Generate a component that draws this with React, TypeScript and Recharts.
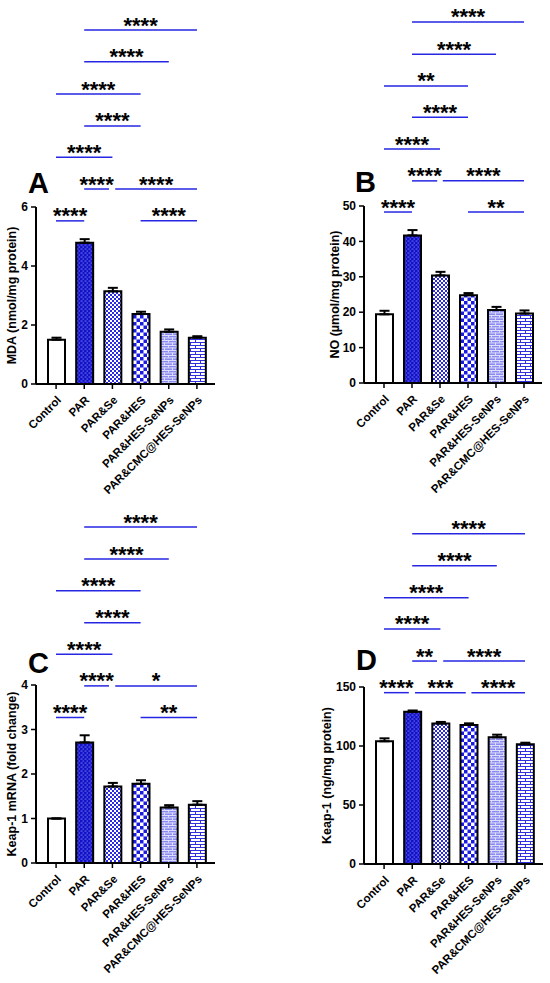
import React from 'react';
import { BarChart, Bar, XAxis, YAxis, ErrorBar, Cell, ReferenceLine } from 'recharts';

const groups = ['Control', 'PAR', 'PAR&Se', 'PAR&HES', 'PAR&HES-SeNPs', 'PAR&CMC@HES-SeNPs'];

const mdaValues = [1.5, 4.79, 3.14, 2.37, 1.77, 1.57];
const mdaErrors = [0.07, 0.12, 0.12, 0.08, 0.08, 0.05];
const noValues = [19.4, 41.7, 30.4, 24.8, 20.6, 19.6];
const noErrors = [1.0, 1.5, 1.0, 0.6, 0.9, 0.9];
const mrnaValues = [1.0, 2.71, 1.72, 1.78, 1.25, 1.31];
const mrnaErrors = [0, 0.16, 0.08, 0.08, 0.05, 0.08];
const proteinValues = [104, 129, 119, 117.8, 107.4, 101.4];
const proteinErrors = [2.5, 1.1, 1.4, 1.4, 2.2, 1.4];

const mdaTicks = [0, 2, 4, 6];
const noTicks = [0, 10, 20, 30, 40, 50];
const mrnaTicks = [0, 1, 2, 3, 4];
const proteinTicks = [0, 50, 100, 150];

// [from group index, to group index, bracket height (y units), significance]
const mdaBrackets: [number, number, number, string][] = [
  [1, 5, 12.0, '****'],
  [1, 4, 10.92, '****'],
  [0, 3, 9.83, '****'],
  [1, 3, 8.75, '****'],
  [0, 2, 7.69, '****'],
  [1, 1.88, 6.61, '****'],
  [2.1, 5, 6.61, '****'],
  [0, 1, 5.53, '****'],
  [3, 5, 5.53, '****'],
];
const noBrackets: [number, number, number, string][] = [
  [1, 5, 102, '****'],
  [1, 4, 92.9, '****'],
  [0, 3, 83.9, '**'],
  [1, 3, 75.1, '****'],
  [0, 2, 66.1, '****'],
  [1, 1.9, 57.1, '****'],
  [2.1, 5, 57.1, '****'],
  [0, 1, 48.3, '****'],
  [3, 5, 48.3, '**'],
];
const mrnaBrackets: [number, number, number, string][] = [
  [1, 5, 7.55, '****'],
  [1, 4, 6.83, '****'],
  [0, 3, 6.12, '****'],
  [1, 3, 5.4, '****'],
  [0, 2, 4.69, '****'],
  [1, 1.88, 3.98, '****'],
  [2.1, 5, 3.98, '*'],
  [0, 1, 3.27, '****'],
  [3, 5, 3.27, '**'],
];
const proteinBrackets: [number, number, number, string][] = [
  [1, 5, 279.9, '****'],
  [1, 4, 252.8, '****'],
  [0, 3, 225.7, '****'],
  [0, 2, 199.2, '****'],
  [1, 1.88, 172.0, '**'],
  [2.1, 5, 172.0, '****'],
  [0, 0.88, 145.2, '****'],
  [1.1, 2.9, 145.2, '***'],
  [3.1, 5, 145.2, '****'],
];

const fills = ['#ffffff', 'url(#patPAR)', 'url(#patSe)', 'url(#patHES)', 'url(#patSeNPs)', 'url(#patCMC)'];
const LINE_BLUE = '#2626e4';
const FONT = '"Liberation Sans", Arial, Helvetica, sans-serif';

type PanelProps = {
  values: number[];
  errors: number[];
  ticks: number[];
  brackets: [number, number, number, string][];
  yLabel: string;
  labelOffset: number;
  left: number;
  top: number;
  width: number;
  height: number;
  margin: { top: number; right: number; bottom: number; left: number };
  yAxisWidth: number;
  xAxisHeight: number;
};

function Panel(p: PanelProps) {
  const data = groups.map((name, i) => ({ name, value: p.values[i], err: [0, p.errors[i]] }));
  const max = p.ticks[p.ticks.length - 1];
  return (
    <div style={{ position: 'absolute', left: p.left, top: p.top }}>
      <BarChart width={p.width} height={p.height} data={data} margin={p.margin}>
        <XAxis
          xAxisId="cat"
          dataKey="name"
          type="category"
          interval={0}
          angle={-45}
          textAnchor="end"
          padding={{ left: 6, right: 4 }}
          height={p.xAxisHeight}
          tickSize={5}
          tickMargin={6}
          axisLine={{ stroke: '#000', strokeWidth: 2 }}
          tickLine={{ stroke: '#000', strokeWidth: 1.5 }}
          tick={{ fill: '#000', fontSize: 11.5, fontWeight: 700, fontFamily: FONT }}
        />
        <XAxis xAxisId="num" type="number" domain={[0, 5]} allowDataOverflow hide padding={{ left: 20, right: 18 }} />
        <YAxis
          type="number"
          domain={[0, max]}
          ticks={p.ticks}
          interval={0}
          width={p.yAxisWidth}
          tickSize={5}
          tickMargin={3}
          axisLine={{ stroke: '#000', strokeWidth: 2 }}
          tickLine={{ stroke: '#000', strokeWidth: 1.5 }}
          tick={{ fill: '#000', fontSize: 12, fontWeight: 700, fontFamily: FONT }}
          label={{
            value: p.yLabel,
            angle: -90,
            position: 'insideLeft',
            offset: p.labelOffset,
            style: { textAnchor: 'middle', fontWeight: 700, fontSize: 12.5, fill: '#000', fontFamily: FONT },
          }}
        />
        <Bar xAxisId="cat" dataKey="value" barSize={17} stroke="#000" strokeWidth={2} isAnimationActive={false}>
          {data.map((d, i) => (
            <Cell key={d.name} fill={fills[i]} />
          ))}
          <ErrorBar dataKey="err" direction="y" width={5} stroke="#000" strokeWidth={2} isAnimationActive={false} />
        </Bar>
        {p.brackets.map(([a, b, lvl, lab], k) => (
          <ReferenceLine
            key={k}
            xAxisId="num"
            segment={[{ x: a, y: lvl }, { x: b, y: lvl }]}
            stroke={LINE_BLUE}
            strokeWidth={1.5}
            ifOverflow="visible"
            label={{ value: lab, position: 'top', offset: -2.5, fill: '#000', fontSize: 22, fontWeight: 700, fontFamily: FONT }}
          />
        ))}
      </BarChart>
    </div>
  );
}

export default function App() {
  return (
    <div style={{ position: 'absolute', left: 0, top: 0, width: 550, height: 983, background: '#fff', fontFamily: FONT }}>
      <Panel
        values={mdaValues}
        errors={mdaErrors}
        ticks={mdaTicks}
        brackets={mdaBrackets}
        yLabel="MDA (nmol/mg protein)"
        labelOffset={12}
        left={0}
        top={0}
        width={275}
        height={500}
        margin={{ top: 207, right: 60, bottom: 16, left: 0 }}
        yAxisWidth={36}
        xAxisHeight={100}
      />
      <Panel
        values={noValues}
        errors={noErrors}
        ticks={noTicks}
        brackets={noBrackets}
        yLabel="NO (µmol/mg protein)"
        labelOffset={11}
        left={275}
        top={0}
        width={275}
        height={500}
        margin={{ top: 206, right: 8, bottom: 17, left: 49 }}
        yAxisWidth={40}
        xAxisHeight={100}
      />
      <Panel
        values={mrnaValues}
        errors={mrnaErrors}
        ticks={mrnaTicks}
        brackets={mrnaBrackets}
        yLabel="Keap-1 mRNA (fold change)"
        labelOffset={12}
        left={0}
        top={490}
        width={275}
        height={493}
        margin={{ top: 195, right: 60, bottom: 10, left: 0 }}
        yAxisWidth={36}
        xAxisHeight={110}
      />
      <Panel
        values={proteinValues}
        errors={proteinErrors}
        ticks={proteinTicks}
        brackets={proteinBrackets}
        yLabel="Keap-1 (ng/mg protein)"
        labelOffset={3}
        left={275}
        top={490}
        width={275}
        height={493}
        margin={{ top: 197, right: 7, bottom: 9, left: 49 }}
        yAxisWidth={40}
        xAxisHeight={110}
      />
      <svg width={550} height={983} style={{ position: 'absolute', left: 0, top: 0, pointerEvents: 'none' }}>
        <defs>
          <pattern id="patPAR" patternUnits="userSpaceOnUse" width={4} height={4}>
            <rect x={0} y={0} width={4} height={4} fill="#1212c6" />
            <rect x={0.5} y={0.5} width={2} height={1.1} fill="#6a6af2" />
            <rect x={2.5} y={2.5} width={2} height={1.1} fill="#6a6af2" />
          </pattern>
          <pattern id="patSe" patternUnits="userSpaceOnUse" width={4} height={4}>
            <rect x={0} y={0} width={4} height={4} fill="#ffffff" />
            <rect x={0} y={0} width={2} height={2} fill="#2a2ae2" />
            <rect x={2} y={2} width={2} height={2} fill="#2a2ae2" />
          </pattern>
          <pattern id="patHES" patternUnits="userSpaceOnUse" width={7} height={7}>
            <rect x={0} y={0} width={7} height={7} fill="#ffffff" />
            <rect x={0} y={0} width={3.5} height={3.5} fill="#1a1ae0" />
            <rect x={3.5} y={3.5} width={3.5} height={3.5} fill="#1a1ae0" />
          </pattern>
          <pattern id="patSeNPs" patternUnits="userSpaceOnUse" width={8} height={5}>
            <rect x={0} y={0} width={8} height={5} fill="#8a8af0" />
            <rect x={0} y={0} width={8} height={0.9} fill="#e6e6ff" />
            <rect x={0} y={2.5} width={8} height={0.9} fill="#e6e6ff" />
            <rect x={0} y={0} width={0.9} height={2.5} fill="#e6e6ff" />
            <rect x={4} y={2.5} width={0.9} height={2.5} fill="#e6e6ff" />
          </pattern>
          <pattern id="patCMC" patternUnits="userSpaceOnUse" width={10} height={6}>
            <rect x={0} y={0} width={10} height={6} fill="#ffffff" />
            <rect x={0} y={0} width={10} height={1} fill="#3030e2" />
            <rect x={0} y={3} width={10} height={1} fill="#3030e2" />
            <rect x={0} y={0} width={1} height={3} fill="#3030e2" />
            <rect x={5} y={3} width={1} height={3} fill="#3030e2" />
          </pattern>
        </defs>
        <g fontFamily={FONT} fontWeight={700} fontSize={29} fill="#000">
          <text x={28} y={193}>A</text>
          <text x={355} y={192}>B</text>
          <text x={28} y={673}>C</text>
          <text x={356} y={670}>D</text>
        </g>
      </svg>
    </div>
  );
}
